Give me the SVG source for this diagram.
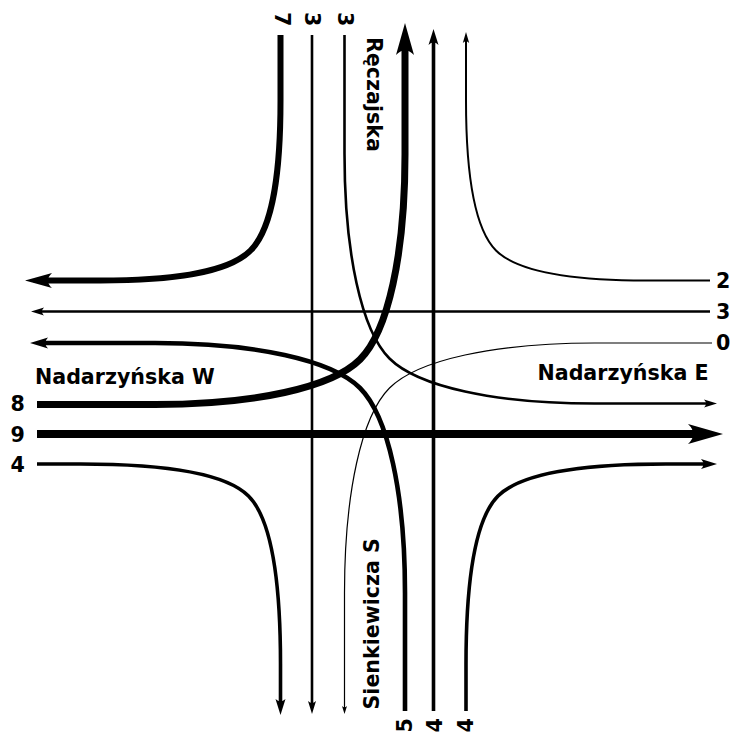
<svg xmlns="http://www.w3.org/2000/svg" width="741" height="733" viewBox="0 0 741 733">
<style>
.ln{fill:none;stroke:#000;stroke-linecap:butt;stroke-linejoin:round}
.w9{stroke-width:8}.w8{stroke-width:7}.w7{stroke-width:6}.w5{stroke-width:4.6}
.w4{stroke-width:3.6}.w3{stroke-width:2.6}.w2{stroke-width:2}.w0{stroke-width:1.2}
text{font-family:"DejaVu Sans","Liberation Sans",sans-serif;font-weight:bold;font-size:20.6px;fill:#000}
</style>
<defs>
<marker id="m9" markerUnits="userSpaceOnUse" orient="auto" refX="10.5" refY="0" overflow="visible"><path d="M35,0 L0,-10 Q10.5,0 0,10Z"/></marker>
<marker id="m8" markerUnits="userSpaceOnUse" orient="auto" refX="9.6" refY="0" overflow="visible"><path d="M32,0 L0,-9 Q9.6,0 0,9Z"/></marker>
<marker id="m7" markerUnits="userSpaceOnUse" orient="auto" refX="8.1" refY="0" overflow="visible"><path d="M27,0 L0,-7.5 Q8.1,0 0,7.5Z"/></marker>
<marker id="m5" markerUnits="userSpaceOnUse" orient="auto" refX="5.4" refY="0" overflow="visible"><path d="M18,0 L0,-5.5 Q5.4,0 0,5.5Z"/></marker>
<marker id="m4" markerUnits="userSpaceOnUse" orient="auto" refX="4.8" refY="0" overflow="visible"><path d="M16,0 L0,-5 Q4.8,0 0,5Z"/></marker>
<marker id="m3" markerUnits="userSpaceOnUse" orient="auto" refX="3.9" refY="0" overflow="visible"><path d="M13,0 L0,-4 Q3.9,0 0,4Z"/></marker>
<marker id="m2" markerUnits="userSpaceOnUse" orient="auto" refX="3.3" refY="0" overflow="visible"><path d="M11,0 L0,-3.2 Q3.3,0 0,3.2Z"/></marker>
<marker id="m0" markerUnits="userSpaceOnUse" orient="auto" refX="2.4" refY="0" overflow="visible"><path d="M8,0 L0,-2.5 Q2.4,0 0,2.5Z"/></marker>
</defs>
<rect width="741" height="733" fill="#fff"/>
<g id="connectors">
<path id="n7-w" class="ln w7" marker-end="url(#m7)" d="M280.5,35 L280.5,100.5 C280.5,170.5 273.5,227.5 250.5,250.5 C227.5,273.5 170.5,280.5 100.5,280.5 L43.9,280.5"/>
<path id="n3-s" class="ln w3" marker-end="url(#m3)" d="M312,35 L312,704.9"/>
<path id="n3-e" class="ln w3" marker-end="url(#m3)" d="M344.5,35 L344.5,153.5 C344.5,253.5 361.5,330.5 389.5,358.5 C417.5,386.5 494.5,403.5 594.5,403.5 L707.9,403.5"/>
<path id="e2-n" class="ln w2" marker-end="url(#m2)" d="M710,280.5 L646,280.5 C576,280.5 519,273.5 496,250.5 C473,227.5 466,170.5 466,100.5 L466,39.7"/>
<path id="e3-w" class="ln w3" marker-end="url(#m3)" d="M710,311.5 L40.1,311.5"/>
<path id="e0-s" class="ln w0" marker-end="url(#m0)" d="M712,343 L594.5,343 C494.5,343 417.5,360 389.5,388 C361.5,416 344.5,493 344.5,593 L344.5,708.4"/>
<path id="w8-n" class="ln w8" marker-end="url(#m8)" d="M37,404.5 L155,404.5 C255,404.5 332,387.5 360,359.5 C388,331.5 405,254.5 405,154.5 L405,45.4"/>
<path id="w9-e" class="ln w9" marker-end="url(#m9)" d="M37,434 L698.5,434"/>
<path id="w4-s" class="ln w4" marker-end="url(#m4)" d="M37,464 L80.5,464 C160.5,464 224.5,472 248.5,496 C272.5,520 280.5,584 280.5,664 L280.5,703.8"/>
<path id="s5-w" class="ln w5" marker-end="url(#m5)" d="M405,711 L405,593 C405,493 388,416 360,388 C332,360 255,343 155,343 L42.6,343"/>
<path id="s4-n" class="ln w4" marker-end="url(#m4)" d="M433.5,711 L433.5,40.2"/>
<path id="s4-e" class="ln w4" marker-end="url(#m4)" d="M466,711 L466,664 C466,584 474,520 498,496 C522,472 586,464 666,464 L705.8,464"/>
</g>
<g id="north">
<text transform="translate(275,12) rotate(90)">7</text>
<text transform="translate(305,12) rotate(90)">3</text>
<text transform="translate(337.5,12) rotate(90)">3</text>
<text transform="translate(366.5,37) rotate(90)">Ręczajska</text>
</g>
<g id="east">
<text x="716" y="288">2</text>
<text x="716" y="319">3</text>
<text x="716" y="350">0</text>
<text x="537.5" y="380">Nadarzyńska E</text>
</g>
<g id="west">
<text x="35" y="384">Nadarzyńska W</text>
<text x="10.5" y="411">8</text>
<text x="10.5" y="441.5">9</text>
<text x="10.5" y="472">4</text>
</g>
<g id="south">
<text transform="translate(378.5,709.5) rotate(-90)">Sienkiewicza S</text>
<text transform="translate(411.5,732.5) rotate(-90)">5</text>
<text transform="translate(441.5,732.5) rotate(-90)">4</text>
<text transform="translate(473,732.5) rotate(-90)">4</text>
</g>
</svg>
